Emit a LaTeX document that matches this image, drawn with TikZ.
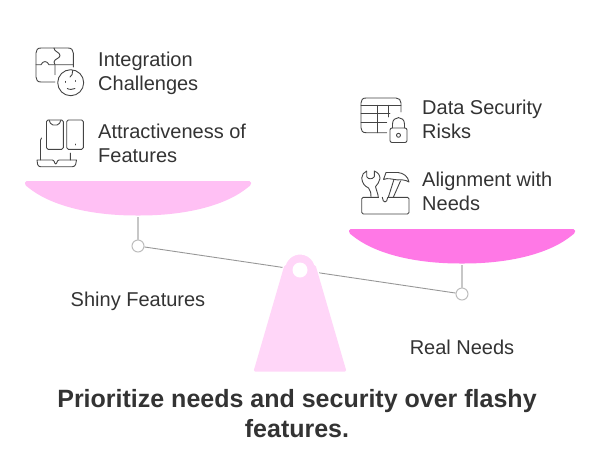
\documentclass[tikz,border=0pt]{standalone}
\usepackage{fontspec}
\setmainfont{Liberation Sans}
\definecolor{panL}{HTML}{FFC0F4}
\definecolor{panR}{HTML}{FF78E6}
\definecolor{fulc}{HTML}{FFD6F8}
\definecolor{ink}{HTML}{333333}
\definecolor{iconink}{HTML}{444444}
\definecolor{gline}{HTML}{BDBDBD}
\tikzset{
  lbl/.style={inner sep=0pt,text=ink,font=\fontsize{20}{24}\selectfont,align=left,anchor=west},
  ttl/.style={inner sep=0pt,text=ink,font=\fontsize{25}{30}\selectfont\bfseries,align=center,anchor=center},
  pivot/.style={circle,draw=gline,line width=1pt,fill=white,minimum size=12pt,inner sep=0pt},
  stem/.style={draw=gline!85!white,line width=1.3pt},
  icon/.style={draw=iconink,line width=0.9pt,line cap=round,line join=round,fill=none}
}
\begin{document}
\begin{tikzpicture}[x=1pt,y=-1pt]
\useasboundingbox (0,0) rectangle (600,456);
% anchors
\node[pivot] (pl) at (138,246) {};
\node[pivot] (pr) at (462,294) {};
\coordinate (sl) at (138,217);
\coordinate (sr) at (462,265);
\draw[stem] (sl) -- (pl);
\draw[stem] (sr) -- (pr);
\draw[gline!80!black,line width=0.9pt] (pl) -- (pr);
% fulcrum
\path[fill=fulc,draw=white,line width=2.5pt,line join=round]
  (254,371.5) -- (284.5,265) arc[start angle=196,end angle=344,radius=16.2] -- (346,371.5) -- cycle;
\path[fill=fulc,rounded corners=1.5pt]
  (253.5,371.5) -- (284.5,265) -- (315.5,265) -- (346.5,371.5) -- cycle;
\node[circle,fill=white,minimum size=15pt,inner sep=0pt] (hub) at (300,270) {};
% pans
\path[fill=panL,rounded corners=1.5pt] (25,181) -- (251,181) -- (251,185) -- (249,186.5) .. controls (225,206) and (185,215.5) .. (138,215.5) .. controls (91,215.5) and (51,206) .. (27,186.5) -- (25,185) -- cycle;
\path[fill=panR,rounded corners=1.5pt] (349,229) -- (575,229) -- (575,233) -- (573,234.5) .. controls (549,254) and (509,263.5) .. (462,263.5) .. controls (415,263.5) and (375,254) .. (351,234.5) -- (349,233) -- cycle;
% labels
\node[lbl] (a) at (98,73) {Integration\\Challenges};
\node[lbl] (b) at (98,143.2) {Attractiveness of\\Features};
\node[lbl] (c) at (422,119.2) {Data Security\\Risks};
\node[lbl] (d) at (422,191.2) {Alignment with\\Needs};
\node[lbl,anchor=center] (e) at (138,301) {Shiny Features};
\node[lbl,anchor=center] (f) at (462,347.2) {Real Needs};
\node[ttl] (t) at (297,414) {Prioritize needs and security over flashy\\features.};
% icon: puzzle and face
\draw[icon] (55,82) -- (41,82) .. controls (37.5,82) and (36,80) .. (36,77) -- (36,53) .. controls (36,50) and (37.5,48) .. (41,48) -- (54,48) .. controls (54,52) and (60,52) .. (60,55.5) .. controls (60,58.5) and (54,59) .. (54,62) -- (55,64.7) -- (55,74.7);
\draw[icon] (54,48) -- (68,48) .. controls (71.5,48) and (73.3,50) .. (73.3,53) -- (73.3,67);
\draw[icon] (36,64.7) -- (41,64.7) .. controls (43,60.5) and (47,60.5) .. (49,64.7) -- (73.3,64.7);
\draw[icon] (70.7,82.7) circle[radius=13];
\draw[icon] (65.7,81.3) -- (65.7,82.3) (75.5,80.5) -- (75.5,81.5);
\draw[icon] (67.3,88.5) .. controls (69,89.7) and (73,89.7) .. (75,88.5);
\draw[icon] (72.7,70.5) .. controls (72.7,73.5) and (72,76) .. (70,77);
% icon: phones and laptop
\draw[icon,rounded corners=1.5pt] (46.5,120) rectangle (63.3,149.3);
\draw[icon] (49,120) .. controls (50,122) and (50.5,125) .. (53,125) -- (57,125) .. controls (59.5,125) and (60,122) .. (61,120);
\draw[icon,rounded corners=1.5pt] (66.7,120) rectangle (83.3,149.3);
\draw[icon] (75,144) -- (75,144.8);
\draw[icon] (40.5,160) -- (40.5,140) -- (41.5,138) (70.3,153) -- (70.3,160);
\draw[icon] (37,160) -- (52.5,160) .. controls (54.5,160) and (54.5,164) .. (55.7,164) .. controls (57,164) and (57,160) .. (59,160) -- (76.5,160) .. controls (76.5,163) and (75.5,166.7) .. (72.5,166.7) -- (40.5,166.7) .. controls (37.5,166.7) and (37,163) .. (37,160);
% icon: table and lock
\draw[icon] (386.7,132.7) -- (366,132.7) .. controls (362.5,132.7) and (361,130.7) .. (361,127.7) -- (361,103) .. controls (361,100) and (362.5,98) .. (366,98) -- (396,98) .. controls (399,98) and (401,100) .. (401,103) -- (401,112);
\draw[icon] (361,105.3) -- (401,105.3) (361,113.7) -- (390,113.7) (361,122) -- (386.7,122);
\draw[icon] (377.3,105.3) -- (377.3,132.7) (388.3,105.3) -- (388.3,117);
\draw[icon,rounded corners=2pt] (390,128) rectangle (407,142.5);
\draw[icon] (392.5,128) -- (392.5,124) .. controls (392.5,115.5) and (404.5,115.5) .. (404.5,124) -- (404.5,128);
\draw[icon] (398.5,135.3) circle[radius=2];
% icon: tools and box
\draw[icon,rounded corners=1.5pt] (361.7,197.3) rectangle (409,214);
\fill[white] (379,195) rectangle (388,198.2);
\draw[icon] (382.3,197.3) .. controls (382.8,203.5) and (387.2,203.5) .. (387.7,197.3);
\draw[icon] (371,197.3) .. controls (371,193) and (370.5,190) .. (368.5,188) .. controls (365,186) and (362.3,184) .. (361.7,178) .. controls (361.7,175) and (364,172) .. (366.7,171) -- (366.7,176.7) .. controls (368,179.5) and (372.5,179.5) .. (374.3,176.7) -- (374.3,171) .. controls (378,172.5) and (380,175) .. (380,178.5) .. controls (380,182) and (377,184) .. (375.5,186.7) .. controls (376,190) and (378,193) .. (378.3,197.3);
\draw[icon] (388.3,197.3) -- (393.8,180) (400.5,181) -- (393.3,197.3);
\draw[icon] (383.5,179.5) -- (386,172.5) -- (398,172.5) .. controls (403,173) and (408,176) .. (409,182) .. controls (405,179.5) and (401,179.8) .. (397,179.8) .. controls (392,179.5) and (388,177.5) .. (383.5,179.5);
\end{tikzpicture}
\end{document}
